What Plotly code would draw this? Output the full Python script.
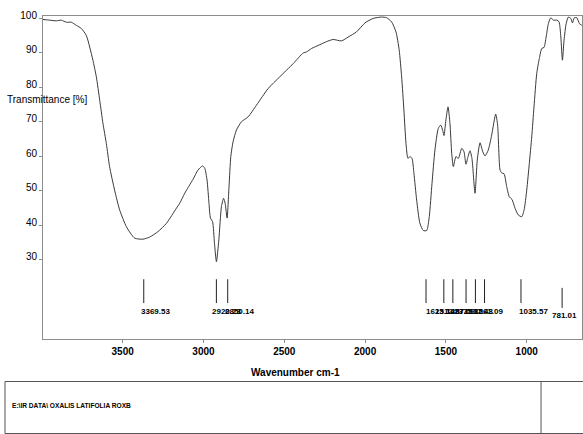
import plotly.graph_objects as go

# Spectrum (wavenumber cm-1, transmittance %)
wavenumber = [3994, 3952, 3911, 3880, 3849, 3818, 3787, 3756, 3725, 3704, 3684, 3663, 3642, 3622,
              3601, 3581, 3550, 3519, 3477, 3426, 3374, 3333, 3281, 3229, 3167, 3147, 3116, 3065,
              3034, 3006, 2992, 2978, 2966, 2957, 2944, 2932, 2920, 2905, 2889, 2876, 2866, 2854,
              2842, 2831, 2817, 2796, 2765, 2724, 2672, 2600, 2528, 2445, 2383, 2362, 2331, 2280,
              2238, 2198, 2146, 2105, 2053, 2001, 1950, 1898, 1867, 1836, 1809, 1789, 1774, 1760,
              1747, 1735, 1723, 1710, 1698, 1681, 1661, 1640, 1619, 1603, 1586, 1568, 1547, 1532,
              1520, 1512, 1500, 1487, 1475, 1464, 1454, 1438, 1423, 1402, 1388, 1376, 1363, 1351,
              1339, 1320, 1306, 1289, 1272, 1258, 1238, 1217, 1192, 1180, 1165, 1155, 1140, 1124,
              1108, 1091, 1072, 1052, 1031, 1016, 1000, 984, 969, 955, 938, 922, 907, 893, 880,
              866, 851, 835, 814, 800, 789, 779, 769, 756, 742, 727, 717, 705, 690, 674, 659]
transmittance = [99.6, 99.4, 99.2, 99.4, 98.8, 98.8, 97.9, 97.0, 95.0, 91.6, 87.8, 83.0, 76.2, 69.5,
                 63.7, 57.0, 50.2, 44.5, 39.6, 36.3, 36.0, 36.6, 38.2, 40.6, 45.0, 46.4, 49.3, 53.3,
                 56.0, 57.2, 56.5, 53.1, 46.4, 42.1, 41.1, 34.8, 29.5, 35.8, 45.4, 47.8, 46.4, 42.1,
                 51.2, 59.9, 64.2, 67.6, 70.0, 71.4, 74.8, 79.6, 83.0, 86.8, 89.9, 90.2, 91.2, 92.3,
                 93.2, 93.8, 93.4, 94.5, 96.0, 98.6, 99.9, 100.3, 100.1, 98.9, 96.0, 90.7, 83.0, 73.4,
                 63.7, 59.4, 59.9, 59.4, 55.1, 47.3, 40.6, 38.5, 38.5, 42.5, 52.2, 61.8, 68.1, 69.0,
                 67.5, 66.0, 70.5, 74.3, 69.5, 60.8, 57.0, 59.9, 59.4, 62.3, 61.3, 57.7, 59.9, 61.6,
                 59.4, 49.3, 58.9, 63.9, 61.3, 60.1, 61.8, 66.1, 72.2, 69.0, 56.0, 55.2, 54.9, 51.2,
                 48.3, 47.5, 44.9, 43.0, 42.5, 44.5, 50.2, 57.9, 65.6, 74.3, 84.0, 88.3, 91.2, 91.5, 94.5,
                 98.4, 100.1, 99.4, 99.4, 98.9, 94.5, 87.8, 93.6, 98.4, 100.3, 99.9, 98.6, 100.1, 100.1, 98.4, 97.9]

# Peak picks
peaks = [3369.53, 2920.23, 2850.14, 1623.12, 1512.87, 1457.09, 1375.35, 1317.43, 1261.09, 1035.57, 781.01]
peak_labels = ["3369.53", "2920.23", "2850.14", "1623.12", "1512.87", "1457.09", "1375.35",
               "1317.43", "1261.09", "1035.57", "781.01"]

x_ticks = [3500, 3000, 2500, 2000, 1500, 1000]
y_ticks = [30, 40, 50, 60, 70, 80, 90, 100]

# styling for the peak markers (level of marker line, label shifts)
mark_top = [24.4] * 10 + [21.9]
mark_bot = [17.5] * 10 + [16.1]
label_y = [15.1] * 10 + [13.9]
label_shift = [-5, -6, -5, -2, -11, -9, -14, -13, -13, -4, -12]

FONT = "Liberation Sans, Arial, sans-serif"
AXC = "#8c8c8c"
TXT = "#000000"

fig = go.Figure()
fig.add_trace(go.Scatter(x=wavenumber, y=transmittance, mode="lines",
                         line=dict(color="#3a3a3a", width=1, shape="spline", smoothing=0.6),
                         hoverinfo="skip", showlegend=False))

px_, py_ = [], []
for p, t, b in zip(peaks, mark_top, mark_bot):
    px_ += [p, p, None]
    py_ += [t, b, None]
fig.add_trace(go.Scatter(x=px_, y=py_, mode="lines", line=dict(color="#222222", width=1),
                         hoverinfo="skip", showlegend=False))

for p, lab, ly, sh in zip(peaks, peak_labels, label_y, label_shift):
    fig.add_annotation(x=p, y=ly, xref="x", yref="y", text=lab, showarrow=False,
                       xanchor="left", yanchor="middle", xshift=sh,
                       font=dict(family=FONT, size=8, color=TXT, weight="bold"))

fig.update_xaxes(range=[3993, 658], tickvals=x_ticks, ticktext=[str(v) for v in x_ticks],
                 ticks="outside", ticklen=3, tickcolor=AXC, showline=True, linecolor=AXC,
                 linewidth=1, mirror=True, showgrid=False, zeroline=False,
                 tickfont=dict(family=FONT, size=10, color=TXT, weight="bold"))
fig.update_yaxes(range=[7.1, 100.6], tickvals=y_ticks, ticktext=[str(v) for v in y_ticks],
                 ticks="outside", ticklen=3, tickcolor=AXC, showline=True, linecolor=AXC,
                 linewidth=1, mirror=True, showgrid=False, zeroline=False, ticklabelshift=-3,
                 tickfont=dict(family=FONT, size=10, color=TXT))

# axis titles
fig.add_annotation(xref="paper", yref="y", x=0, y=76.4, xshift=-38, xanchor="left", yanchor="middle",
                   text="Transmittance [%]", showarrow=False,
                   font=dict(family=FONT, size=10, color=TXT))
fig.add_annotation(xref="paper", yref="paper", x=0.469, y=-0.105, xanchor="center", yanchor="middle",
                   text="Wavenumber cm-1", showarrow=False,
                   font=dict(family=FONT, size=10, color=TXT, weight="bold"))

# info box at the bottom
fig.add_shape(type="rect", xref="paper", yref="paper", x0=-0.0705, x1=1.03, y0=-0.2926, y1=-0.1316,
              line=dict(color="#555555", width=1))
fig.add_shape(type="line", xref="paper", yref="paper", x0=0.924, x1=0.924, y0=-0.2926, y1=-0.1316,
              line=dict(color="#555555", width=1))
fig.add_annotation(xref="paper", yref="paper", x=-0.0612, y=-0.2074, xanchor="left", yanchor="middle",
                   text="E:\\IR DATA\\ OXALIS LATIFOLIA ROXB", showarrow=False,
                   font=dict(family=FONT, size=6.6, color=TXT, weight="bold"))

fig.update_layout(width=583, height=434, margin=dict(l=43, r=1, t=16, b=95),
                  paper_bgcolor="white", plot_bgcolor="white", showlegend=False)

fig.write_html("out.html", config={"displayModeBar": False},
               post_script="document.body.style.margin='0';")
